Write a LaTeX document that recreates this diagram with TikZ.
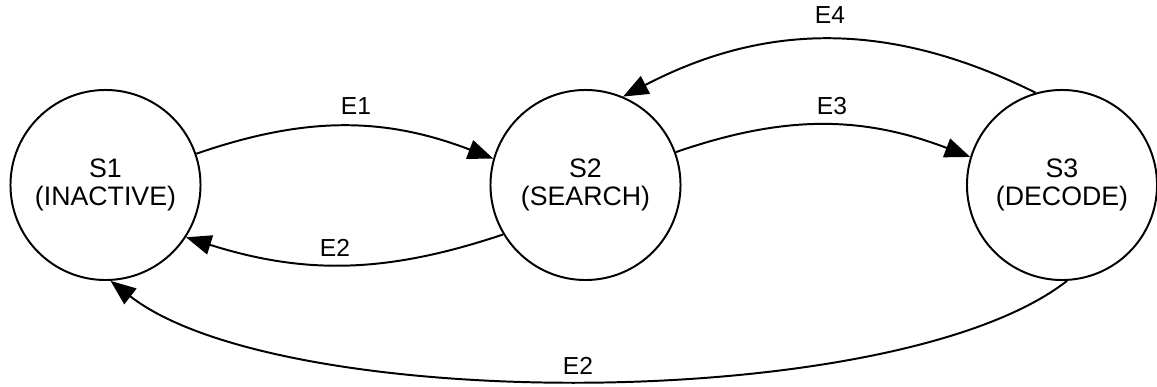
\documentclass[tikz,border=0pt]{standalone}
\usepackage{fontspec}
\setmainfont{Liberation Sans}
\usetikzlibrary{arrows.meta}

\begin{document}
\begin{tikzpicture}[x=0.025cm, y=0.025cm,
		state/.style={draw, circle, line width=1.4pt, minimum size=4.75cm, inner sep=0pt, align=center, font=\fontsize{19}{20}\selectfont},
		trans/.style={line width=1.4pt, -{Triangle[length=18pt, width=14pt]}},
		elabel/.style={inner sep=0pt, font=\fontsize{17.5}{19.5}\selectfont}]
		%%%%% START %%%%%
		
		\useasboundingbox (0, 0) rectangle (1157, 387);
		
		\node[state] (s1) at (105.5, 202) {S1\\(INACTIVE)};
		\node[state] (s2) at (585.5, 202) {S2\\(SEARCH)};
		\node[state] (s3) at (1062, 202) {S3\\(DECODE)};
		
		\draw[trans] (s1.19) to[bend left=20] (s2.164);
		\draw[trans] (s2.211) to[bend left=18] (s1.-33);
		\draw[trans] (s2.20) to[bend left=20] (s3.163);
		\draw[trans] (s3.106) to[bend right=27] (s2.67);
		\draw[trans] (s3.-87) to[out=-142, in=-38, looseness=0.58] (s1.-87);
		
		\node[elabel] (le1) at (356, 281) {E1};
		\node[elabel] (le2) at (335, 139) {E2};
		\node[elabel] (le3) at (832, 281) {E3};
		\node[elabel] (le4) at (830, 372) {E4};
		\node[elabel] (le5) at (578, 21) {E2};
		
		%%%%% END %%%%%
	\end{tikzpicture}
\end{document}
